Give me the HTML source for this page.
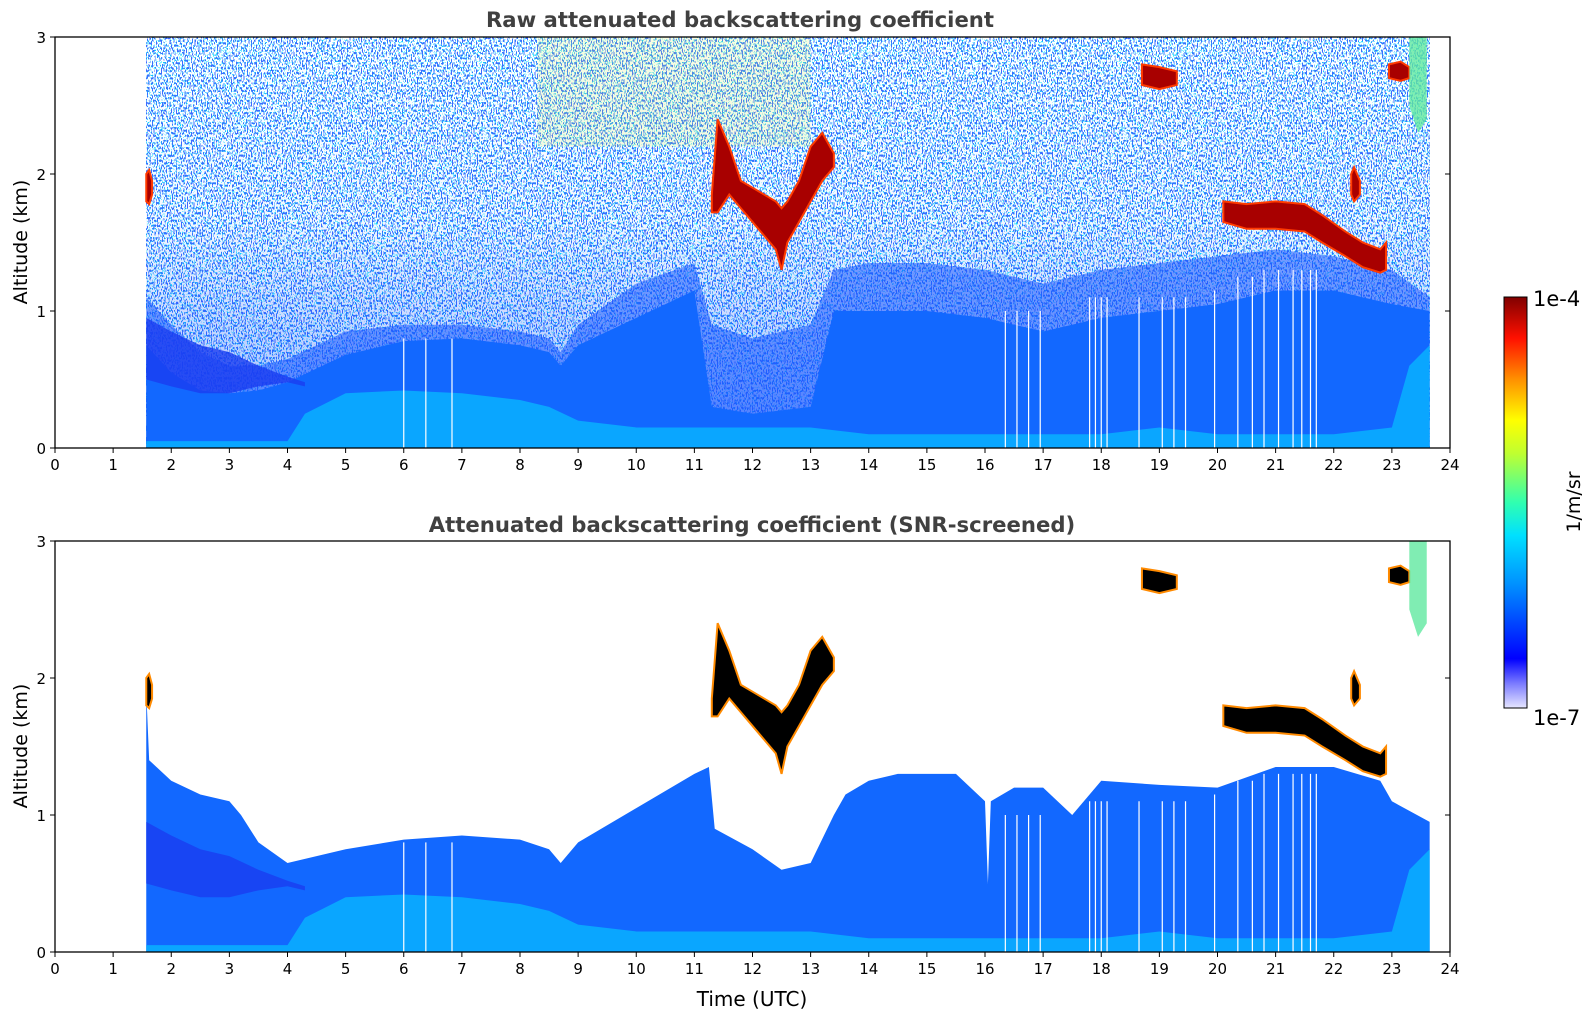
<!DOCTYPE html>
<html><head><meta charset="utf-8">
<style>
body{margin:0;background:#fff;}
svg text{font-family:"DejaVu Sans","Liberation Sans",sans-serif;fill:#000;}
</style></head>
<body>
<svg id="fig" width="1595" height="1020" viewBox="0 0 1595 1020" xmlns="http://www.w3.org/2000/svg">
<defs>
<filter id="speck" x="0" y="0" width="100%" height="100%">
  <feTurbulence type="fractalNoise" baseFrequency="0.8 0.4" numOctaves="1" seed="3" result="n"/>
  <feColorMatrix in="n" type="matrix" values="5 0 0 0 -2  5 0 0 0 -2  5 0 0 0 -2  0 0 0 0 1" result="c"/>
  <feComponentTransfer in="c">
    <feFuncR type="discrete" tableValues="0.05 0.0 1 1 1 1"/>
    <feFuncG type="discrete" tableValues="0.15 0.8 1 1 1 1"/>
    <feFuncB type="discrete" tableValues="1 1 1 1 1 1"/>
    <feFuncA type="table" tableValues="1 1"/>
  </feComponentTransfer>
</filter>
<linearGradient id="fade" x1="0" y1="0" x2="0" y2="1">
  <stop offset="0" stop-color="#1050ff" stop-opacity="0"/>
  <stop offset="0.45" stop-color="#1050ff" stop-opacity="0.05"/>
  <stop offset="1" stop-color="#1050ff" stop-opacity="0.45"/>
</linearGradient>
<linearGradient id="cbar" x1="0" y1="1" x2="0" y2="0">
  <stop offset="0" stop-color="#e6e6ff"/><stop offset="0.06" stop-color="#7a7aff"/>
  <stop offset="0.12" stop-color="#0000ff"/><stop offset="0.3" stop-color="#0090ff"/>
  <stop offset="0.42" stop-color="#00e0ff"/><stop offset="0.5" stop-color="#30ffb0"/>
  <stop offset="0.62" stop-color="#c0ff30"/><stop offset="0.7" stop-color="#ffff00"/>
  <stop offset="0.8" stop-color="#ff9000"/><stop offset="0.9" stop-color="#ff1000"/>
  <stop offset="1" stop-color="#800000"/>
</linearGradient>
<clipPath id="clipTop"><rect x="55" y="37" width="1395" height="411"/></clipPath>
<clipPath id="clipBot"><rect x="55" y="541" width="1395" height="411"/></clipPath>
</defs>
<g id="layers"></g>
<text x="740" y="27" text-anchor="middle" font-size="21.2" font-weight="bold" style="fill:#404040">Raw attenuated backscattering coefficient</text>
<text x="752" y="532" text-anchor="middle" font-size="21.2" font-weight="bold" style="fill:#404040">Attenuated backscattering coefficient (SNR-screened)</text>
<text x="752" y="1006" text-anchor="middle" font-size="20">Time (UTC)</text>
<text transform="translate(27,242) rotate(-90)" text-anchor="middle" font-size="19">Altitude (km)</text>
<text transform="translate(27,746) rotate(-90)" text-anchor="middle" font-size="19">Altitude (km)</text>
<rect x="1504" y="297" width="23" height="411" fill="url(#cbar)" stroke="#000" stroke-width="1"/>
<text x="1533" y="306" font-size="21">1e-4</text>
<text x="1533" y="725" font-size="21">1e-7</text>
<text transform="translate(1580,502) rotate(-90)" text-anchor="middle" font-size="19">1/m/sr</text>
</svg>
<script>
// ---- data ----
const xTicks = [0,1,2,3,4,5,6,7,8,9,10,11,12,13,14,15,16,17,18,19,20,21,22,23,24];
const yTicks = [0,1,2,3];
const dataStart = 1.57, dataEnd = 23.65;
const rawT   = [1.57,2,2.5,3,3.5,4,4.5,5,6,7,8,8.5,8.7,9,10,11,11.3,12,13,13.4,14,15,16,17,18,19,20,21,22,23,23.65];
const rawTop = [0.75,0.55,0.42,0.4,0.42,0.48,0.58,0.68,0.78,0.8,0.75,0.7,0.6,0.75,0.95,1.15,0.3,0.25,0.3,1.0,1.0,1.0,0.95,0.85,0.95,1.0,1.05,1.15,1.15,1.05,1.0];
const rawMid = [1.1,0.9,0.7,0.6,0.6,0.65,0.75,0.85,0.9,0.9,0.85,0.8,0.7,0.9,1.2,1.35,0.9,0.8,0.9,1.3,1.35,1.35,1.3,1.2,1.3,1.35,1.4,1.45,1.4,1.3,1.1];
const aerT   = [1.57,4,4.3,5,6,7,8,8.5,9,10,11,12,13,14,16,18,19,20,22,23,23.3,23.65];
const aerTop = [0.05,0.05,0.25,0.4,0.42,0.4,0.35,0.3,0.2,0.15,0.15,0.15,0.15,0.1,0.1,0.1,0.15,0.1,0.1,0.15,0.6,0.75];
const scrT   = [1.57,1.62,2,2.5,3,3.2,3.5,4,4.5,5,6,7,8,8.5,8.7,9,10,11,11.25,11.35,12,12.5,13,13.4,13.6,14,14.5,15,15.5,16,16.05,16.1,16.5,17,17.5,18,19,20,21,22,22.8,23,23.65];
const scrTop = [1.9,1.4,1.25,1.15,1.1,1.0,0.8,0.65,0.7,0.75,0.82,0.85,0.82,0.75,0.65,0.8,1.05,1.3,1.35,0.9,0.75,0.6,0.65,1.0,1.15,1.25,1.3,1.3,1.3,1.1,0.5,1.1,1.2,1.2,1.0,1.25,1.22,1.2,1.35,1.35,1.25,1.1,0.95];
const darkT   = [1.57,2,2.5,3,3.5,4,4.3];
const darkTop = [0.95,0.85,0.75,0.7,0.6,0.52,0.48];
const darkBot = [0.5,0.45,0.4,0.4,0.45,0.48,0.45];
const gapTimes = [6.0,6.38,6.83,16.35,16.55,16.75,16.95,17.8,17.9,18.0,18.1,18.65,19.05,19.25,19.45,19.95,20.35,20.6,20.8,21.05,21.3,21.45,21.6,21.7];
const gapTops  = [0.8,0.8,0.8,1.0,1.0,1.0,1.0,1.1,1.1,1.1,1.1,1.1,1.1,1.1,1.1,1.15,1.25,1.25,1.3,1.3,1.3,1.3,1.3,1.3];
const cloudA_t=[1.57,1.62,1.67], cloudA_b=[1.8,1.78,1.85], cloudA_h=[2.0,2.03,1.95];
const cloudB_t=[11.3,11.4,11.6,11.8,12,12.2,12.4,12.5,12.6,12.8,13,13.2,13.4];
const cloudB_b=[1.72,1.72,1.85,1.75,1.65,1.55,1.45,1.3,1.5,1.65,1.8,1.95,2.05];
const cloudB_h=[1.85,2.4,2.2,1.95,1.9,1.85,1.8,1.75,1.8,1.95,2.2,2.3,2.15];
const cloudC_t=[18.7,19,19.3], cloudC_b=[2.65,2.62,2.65], cloudC_h=[2.8,2.78,2.75];
const cloudD_t=[20.1,20.5,21,21.5,21.8,22.2,22.5,22.8,22.9];
const cloudD_b=[1.65,1.6,1.6,1.58,1.5,1.4,1.32,1.28,1.3];
const cloudD_h=[1.8,1.78,1.8,1.78,1.7,1.58,1.5,1.45,1.5];
const cloudE_t=[22.3,22.35,22.45], cloudE_b=[1.85,1.8,1.85], cloudE_h=[2.0,2.05,1.95];
const cloudF_t=[22.95,23.15,23.3], cloudF_b=[2.7,2.68,2.7], cloudF_h=[2.8,2.82,2.78];
const cloudG_t=[23.3,23.45,23.6], cloudG_b=[2.5,2.3,2.4], cloudG_h=[3,3,3];
// ---- axes ----
const NS='http://www.w3.org/2000/svg';
const X0=55, X1=1450;
const xs = t => X0 + t*(X1-X0)/24;
const panels = [{top:37,bot:448,clip:'clipTop',name:'top'},{top:541,bot:952,clip:'clipBot',name:'bottom'}];
const ysF = p => a => p.bot - a*(p.bot-p.top)/3;
const root = document.getElementById('layers');
function mk(tag, attrs, parent){const e=document.createElementNS(NS,tag);for(const k in attrs)e.setAttribute(k,attrs[k]);(parent||root).appendChild(e);return e;}
function areaPath(ts, tops, ys){let d='M'+xs(ts[0])+' '+ys(0);ts.forEach((t,i)=>{d+=' L'+xs(t)+' '+ys(tops[i]);});return d+' L'+xs(ts[ts.length-1])+' '+ys(0)+' Z';}
function bandPath(ts, b, h, ys){let d='';ts.forEach((t,i)=>{d+=(i?' L':'M')+xs(t)+' '+ys(h[i]);});for(let i=ts.length-1;i>=0;i--)d+=' L'+xs(ts[i])+' '+ys(b[i]);return d+' Z';}
const clouds=[[cloudA_t,cloudA_b,cloudA_h],[cloudB_t,cloudB_b,cloudB_h],[cloudC_t,cloudC_b,cloudC_h],[cloudD_t,cloudD_b,cloudD_h],[cloudE_t,cloudE_b,cloudE_h],[cloudF_t,cloudF_b,cloudF_h]];

panels.forEach((p,pi)=>{
  const ys=ysF(p);
  const g=mk('g',{'clip-path':'url(#'+p.clip+')'});
  
  
  if(pi===0){
    const s=mk('rect',{x:xs(dataStart),y:p.top,width:xs(dataEnd)-xs(dataStart),height:p.bot-p.top,filter:'url(#speck)'},g);
    
    
    const f=mk('rect',{x:xs(dataStart),y:p.top,width:xs(dataEnd)-xs(dataStart),height:p.bot-p.top,fill:'url(#fade)'},g);
    
    
    const yl=mk('rect',{x:xs(8.3),y:ys(3),width:xs(13)-xs(8.3),height:ys(2.2)-ys(3),fill:'#d8f060',opacity:'0.18'},g);
    
    
    const mid=mk('path',{d:areaPath(rawT,rawMid,ys),fill:'#1858ff',opacity:'0.55'},g);
    
    
    const bl=mk('path',{d:areaPath(rawT,rawTop,ys),fill:'#1268ff'},g);
    
    
  } else {
    const bl=mk('path',{d:areaPath(scrT,scrTop,ys),fill:'#1268ff'},g);
    
    
  }
  const dk=mk('path',{d:bandPath(darkT,darkBot,darkTop,ys),fill:'#1a3cf0',opacity:'0.8'},g);
  
  
  const ae=mk('path',{d:areaPath(aerT,aerTop,ys),fill:'#0aa6ff'},g);
  
  
  gapTimes.forEach((t,i)=>{
    const l=mk('line',{x1:xs(t),x2:xs(t),y1:ys(0),y2:ys(gapTops[i]),stroke:'#fff','stroke-width':1.2},g);
    
    
  });
  clouds.forEach(c=>{
    const cp=mk('path',{d:bandPath(c[0],c[1],c[2],ys),fill:pi===0?'#a80000':'#000',stroke:pi===0?'#ff3a00':'#ff8a00','stroke-width':2},g);
    
    
  });
  const cg=mk('path',{d:bandPath(cloudG_t,cloudG_b,cloudG_h,ys),fill:'#60e8a0',opacity:'0.8'},g);
  
  
  const fr=mk('rect',{x:X0,y:p.top,width:X1-X0,height:p.bot-p.top,fill:'none',stroke:'#000','stroke-width':1.3});
  
  
  xTicks.forEach(t=>{
    mk('line',{x1:xs(t),x2:xs(t),y1:p.bot,y2:p.bot+5,stroke:'#000','stroke-width':1});
    const tx=mk('text',{x:xs(t),y:p.bot+22,'text-anchor':'middle','font-size':15});
    tx.textContent=t;
    
    
  });
  yTicks.forEach(a=>{
    mk('line',{x1:X0-5,x2:X0,y1:ys(a),y2:ys(a),stroke:'#000','stroke-width':1});
    mk('line',{x1:X1-5,x2:X1,y1:ys(a),y2:ys(a),stroke:'#000','stroke-width':1});
    const tx=mk('text',{x:X0-9,y:ys(a)+6,'text-anchor':'end','font-size':15});
    tx.textContent=a;
    
    
  });
});
</script>
</body></html>
